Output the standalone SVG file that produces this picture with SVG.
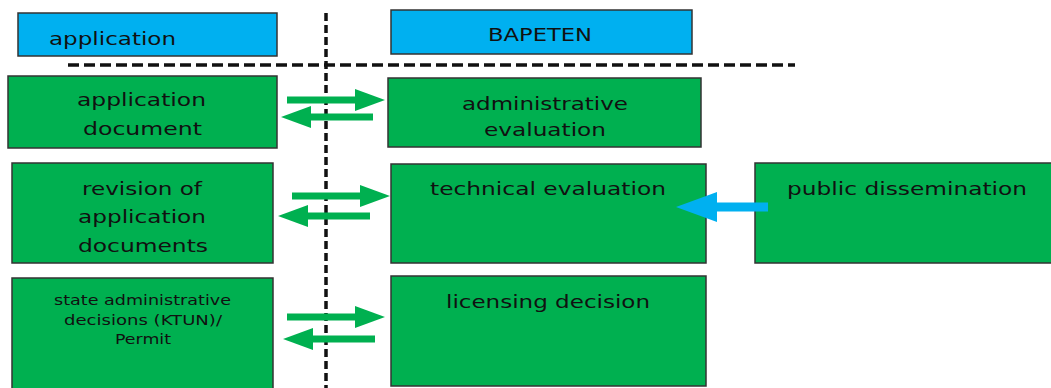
<svg xmlns="http://www.w3.org/2000/svg" width="1051" height="388" viewBox="0 0 1051 388">
<defs>
<style>
.g{fill:#00B050;stroke:#333;stroke-width:1.5}
.b{fill:#00B0F0;stroke:#333;stroke-width:1.5}
.t{font-family:"DejaVu Sans",sans-serif;font-size:18px;fill:#111}
.s{font-family:"DejaVu Sans",sans-serif;font-size:13.5px;fill:#111}
.d{stroke:#111;stroke-width:3.5;fill:none}
.ga{stroke:#00B050;stroke-width:7;fill:none}
.ba{stroke:#00B0F0;stroke-width:9;fill:none}
</style>
<marker id="gh" markerUnits="userSpaceOnUse" markerWidth="30" markerHeight="22" refX="0" refY="11" orient="auto" viewBox="0 0 30 22">
<path d="M0,0 L30,11 L0,22 z" fill="#00B050"/>
</marker>
<marker id="bh" markerUnits="userSpaceOnUse" markerWidth="41" markerHeight="30" refX="0" refY="15" orient="auto" viewBox="0 0 41 30">
<path d="M0,0 L41,15 L0,30 z" fill="#00B0F0"/>
</marker>
</defs>
<rect width="1051" height="388" fill="#fff"/>
<g id="lanes">
<line class="d" x1="68" y1="65" x2="795" y2="65" stroke-dasharray="11,5"/>
<line class="d" x1="326" y1="13" x2="326" y2="388" stroke-dasharray="8,4"/>
</g>
<g id="lane-application">
<rect class="b" x="18" y="13" width="259" height="43"/>
<text class="t" x="49" y="45" textLength="127" lengthAdjust="spacingAndGlyphs">application</text>
</g>
<g id="lane-bapeten">
<rect class="b" x="391" y="10" width="301" height="44"/>
<text class="t" x="488" y="41" textLength="104" lengthAdjust="spacingAndGlyphs">BAPETEN</text>
</g>
<g id="application-document">
<rect class="g" x="8" y="76" width="269" height="72"/>
<text class="t" x="77" y="106" textLength="129" lengthAdjust="spacingAndGlyphs">application</text>
<text class="t" x="83" y="135" textLength="119" lengthAdjust="spacingAndGlyphs">document</text>
</g>
<g id="administrative-evaluation">
<rect class="g" x="388" y="78" width="313" height="69"/>
<text class="t" x="462" y="110" textLength="166" lengthAdjust="spacingAndGlyphs">administrative</text>
<text class="t" x="484" y="136" textLength="122" lengthAdjust="spacingAndGlyphs">evaluation</text>
</g>
<g id="revision">
<rect class="g" x="12" y="163" width="261" height="100"/>
<text class="t" x="82" y="195" textLength="120" lengthAdjust="spacingAndGlyphs">revision of</text>
<text class="t" x="78" y="223" textLength="128" lengthAdjust="spacingAndGlyphs">application</text>
<text class="t" x="78" y="252" textLength="130" lengthAdjust="spacingAndGlyphs">documents</text>
</g>
<g id="technical-evaluation">
<rect class="g" x="391" y="164" width="315" height="99"/>
<text class="t" x="430" y="195" textLength="236" lengthAdjust="spacingAndGlyphs">technical evaluation</text>
</g>
<g id="public-dissemination">
<rect class="g" x="755" y="163" width="300" height="100"/>
<text class="t" x="787" y="195" textLength="240" lengthAdjust="spacingAndGlyphs">public dissemination</text>
</g>
<g id="state-decisions">
<rect class="g" x="12" y="278" width="261" height="115"/>
<text class="s" x="54" y="305" textLength="177" lengthAdjust="spacingAndGlyphs">state administrative</text>
<text class="s" x="64" y="325" textLength="158" lengthAdjust="spacingAndGlyphs">decisions (KTUN)/</text>
<text class="s" x="115" y="344" textLength="56" lengthAdjust="spacingAndGlyphs">Permit</text>
</g>
<g id="licensing-decision">
<rect class="g" x="391" y="276" width="315" height="110"/>
<text class="t" x="446" y="308" textLength="204" lengthAdjust="spacingAndGlyphs">licensing decision</text>
</g>
<g id="connectors">
<line class="ga" x1="287" y1="100" x2="355" y2="100" marker-end="url(#gh)"/>
<line class="ga" x1="373" y1="117" x2="311" y2="117" marker-end="url(#gh)"/>
<line class="ga" x1="292" y1="196" x2="360" y2="196" marker-end="url(#gh)"/>
<line class="ga" x1="370" y1="216" x2="308" y2="216" marker-end="url(#gh)"/>
<line class="ga" x1="287" y1="317" x2="355" y2="317" marker-end="url(#gh)"/>
<line class="ga" x1="375" y1="339" x2="313" y2="339" marker-end="url(#gh)"/>
<line class="ba" x1="768" y1="207" x2="717" y2="207" marker-end="url(#bh)"/>
</g>
</svg>
